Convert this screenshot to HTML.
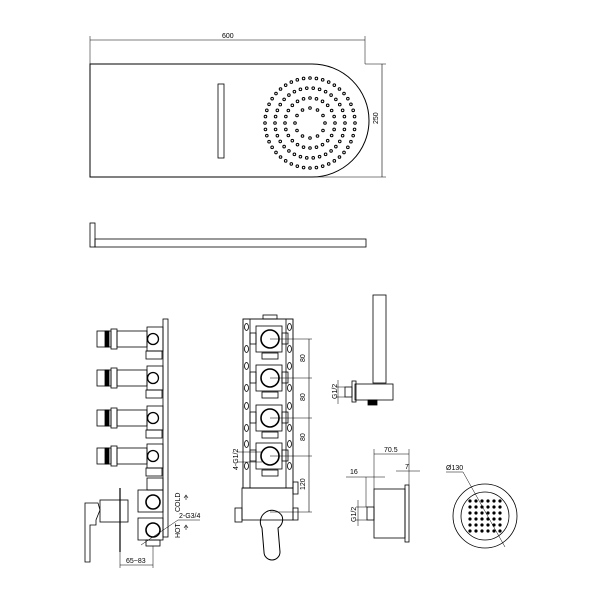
<!DOCTYPE html>
<html><head><meta charset="utf-8"><style>
html,body{margin:0;padding:0;background:#fff;width:600px;height:600px;overflow:hidden}
svg{display:block}
text{font-family:"Liberation Sans",sans-serif;font-size:7px;fill:#000}
</style></head><body>
<svg id="s" width="600" height="600" viewBox="0 0 600 600" xmlns="http://www.w3.org/2000/svg" fill="none" stroke="#000" stroke-width="0.8">
<!-- top view -->
<line x1="90" y1="40" x2="365" y2="40" stroke-width="0.6"/>
<line x1="90" y1="36" x2="90" y2="64" stroke-width="0.5"/>
<line x1="365" y1="36" x2="365" y2="64" stroke-width="0.5"/>
<text x="222" y="38" stroke="none">600</text>
<path d="M90 64 H312 A57 56.5 0 0 1 312 177 H90 Z" stroke-width="1"/>
<line x1="365" y1="64" x2="386" y2="64" stroke-width="0.5"/>
<line x1="312" y1="177" x2="386" y2="177" stroke-width="0.5"/>
<line x1="382" y1="64" x2="382" y2="177" stroke-width="0.6"/>
<text x="0" y="0" stroke="none" transform="translate(378,124) rotate(-90)">250</text>
<rect x="218" y="84" width="6" height="74"/>
<g id="dots" stroke-width="1"></g>
<!-- side bar -->
<rect x="90" y="223" width="5" height="24"/>
<rect x="95" y="239" width="271" height="8"/>
<!-- left valve view -->
<rect x="163" y="319" width="5" height="218"/>
<g id="knobs"></g>
<rect x="147" y="478" width="16" height="12"/>
<rect x="138" y="490" width="25" height="22"/><circle cx="153" cy="502" r="7" stroke-width="1.6"/>
<rect x="138" y="518" width="25" height="22"/><circle cx="153" cy="530" r="7" stroke-width="1.6"/>
<rect x="146" y="540" width="14" height="6"/>
<rect x="100" y="500" width="28" height="22"/>
<line x1="120" y1="488" x2="120" y2="552" stroke-width="1.2"/>
<path d="M85 503 H98 L100 510 L96 520 V525 H90 V562 H85 Z"/>
<line x1="120" y1="552" x2="120" y2="568" stroke-width="0.5"/>
<line x1="153" y1="546" x2="153" y2="568" stroke-width="0.5"/>
<line x1="120" y1="565" x2="153" y2="565" stroke-width="0.5"/>
<text x="126" y="563" stroke="none" font-size="6.5">65~83</text>
<line x1="141" y1="545" x2="178" y2="520" stroke-width="0.5"/>
<line x1="178" y1="520" x2="200" y2="520" stroke-width="0.5"/>
<text x="179" y="518" stroke="none" font-size="6.5">2-G3/4</text>
<text stroke="none" font-size="6.5" transform="translate(180,512) rotate(-90)">COLD</text>
<text stroke="none" font-size="6.5" transform="translate(180,538) rotate(-90)">HOT</text>
<path d="M186 500 v-4 M184 498 l2 -3 l2 3" stroke-width="0.6"/>
<path d="M186 530 v-4 M184 528 l2 -3 l2 3" stroke-width="0.6"/>
<!-- middle front view -->
<rect x="243" y="319" width="50" height="169" stroke-width="0.9"/>
<line x1="250" y1="319" x2="250" y2="488"/><line x1="286" y1="319" x2="286" y2="488"/>
<rect x="263" y="315" width="14" height="4"/>
<g id="mid"></g>
<rect x="242" y="488" width="51" height="32"/>
<rect x="235" y="508" width="7" height="14"/>
<rect x="293" y="482" width="5" height="12"/><rect x="293" y="508" width="5" height="12"/>
<path d="M262 528 A10 10 0 0 1 282 516 A10 10 0 0 1 278 528 L280 552 A8 8 0 0 1 264 552 Z" stroke-width="1"/>
<line x1="309" y1="339" x2="309" y2="512" stroke-width="0.6"/>
<line x1="270" y1="512" x2="312" y2="512" stroke-width="0.5"/>
<text stroke="none" transform="translate(305,362) rotate(-90)">80</text>
<text stroke="none" transform="translate(305,401) rotate(-90)">80</text>
<text stroke="none" transform="translate(305,441) rotate(-90)">80</text>
<text stroke="none" transform="translate(305,490) rotate(-90)">120</text>
<line x1="237" y1="452" x2="262" y2="452" stroke-width="0.5"/>
<line x1="237" y1="462" x2="262" y2="462" stroke-width="0.5"/>
<text stroke="none" transform="translate(238,470) rotate(-90)">4-G1/2</text>
<!-- shower holder -->
<rect x="373" y="295" width="13" height="88"/>
<rect x="355" y="384" width="38" height="16"/>
<rect x="352" y="381" width="4" height="21"/>
<rect x="345" y="387" width="7" height="10"/>
<rect x="368" y="400" width="9" height="5" fill="#000"/>
<line x1="336" y1="387" x2="345" y2="387" stroke-width="0.5"/>
<line x1="336" y1="397" x2="345" y2="397" stroke-width="0.5"/>
<line x1="338" y1="380" x2="338" y2="404" stroke-width="0.5"/>
<text stroke="none" transform="translate(337,399) rotate(-90)">G1/2</text>
<!-- body jet side -->
<rect x="374" y="489" width="31" height="49"/>
<rect x="405" y="485" width="4" height="57"/>
<rect x="367" y="507" width="7" height="13"/>
<line x1="374" y1="449" x2="374" y2="489" stroke-width="0.5"/>
<line x1="409" y1="449" x2="409" y2="485" stroke-width="0.5"/>
<line x1="374" y1="454" x2="409" y2="454" stroke-width="0.5"/>
<text x="384" y="452" stroke="none">70.5</text>
<line x1="346" y1="477" x2="385" y2="477" stroke-width="0.5"/>
<line x1="366" y1="477" x2="366" y2="507" stroke-width="0.5"/>
<text x="350" y="474" stroke="none">16</text>
<line x1="396" y1="471" x2="420" y2="471" stroke-width="0.5"/>
<text x="405" y="469" stroke="none">7</text>
<line x1="356" y1="507" x2="367" y2="507" stroke-width="0.5"/>
<line x1="356" y1="520" x2="367" y2="520" stroke-width="0.5"/>
<line x1="358" y1="500" x2="358" y2="526" stroke-width="0.5"/>
<text stroke="none" transform="translate(356,522) rotate(-90)">G1/2</text>
<!-- body jet front -->
<circle cx="485" cy="516" r="32"/>
<circle cx="485" cy="516" r="24"/>
<g id="grid"></g>
<line x1="463" y1="472" x2="505" y2="547" stroke-width="0.5"/>
<line x1="446" y1="472" x2="463" y2="472" stroke-width="0.5"/>
<text x="446" y="470" stroke="none">Ø130</text>
</svg>
<script>
var NS="http://www.w3.org/2000/svg";
function el(p,t,a){var e=document.createElementNS(NS,t);for(var k in a)e.setAttribute(k,a[k]);document.getElementById(p).appendChild(e);return e;}
[[15,12],[25,24],[35,34],[45,44]].forEach(function(r){for(var i=0;i<r[1];i++){var a=i/r[1]*Math.PI*2;el("dots","circle",{cx:310+r[0]*Math.cos(a),cy:123+r[0]*Math.sin(a),r:1.3});}});
[339,378,418,456].forEach(function(y,i){
 el("knobs","rect",{x:97,y:y-8,width:14,height:16});
 el("knobs","rect",{x:105,y:y-8,width:4,height:16,fill:"#000"});
 el("knobs","rect",{x:111,y:y-10,width:6,height:20});
 el("knobs","rect",{x:117,y:y-8,width:30,height:16});
 el("knobs","rect",{x:147,y:y-12,width:16,height:24});
 el("knobs","circle",{cx:153,cy:y,r:5.5,"stroke-width":1.3});
 el("knobs","rect",{x:146,y:y+12,width:16,height:8});
 el("mid","rect",{x:256,y:y-13,width:26,height:26});
 el("mid","circle",{cx:270,cy:y,r:9,"stroke-width":1.6});
 el("mid","rect",{x:250,y:y-6,width:6,height:11});
 el("mid","rect",{x:282,y:y-6,width:6,height:11});
 el("mid","ellipse",{cx:246.5,cy:y-12,rx:2,ry:3.5});
 el("mid","ellipse",{cx:289.5,cy:y-12,rx:2,ry:3.5});
 el("mid","ellipse",{cx:246.5,cy:y+10,rx:2,ry:3.5});
 el("mid","ellipse",{cx:289.5,cy:y+10,rx:2,ry:3.5});
 el("mid","rect",{x:262,y:y+14,width:16,height:6});
 el("mid","line",{x1:270,y1:y,x2:312,y2:y,"stroke-width":0.5});
});
for(var r=0;r<6;r++)for(var c=0;c<6;c++){var x=470+c*6,y=501+r*6;if((x-485)*(x-485)+(y-516)*(y-516)<22*22)el("grid","circle",{cx:x,cy:y,r:1.2,fill:"#000"});}
</script>
</body></html>
